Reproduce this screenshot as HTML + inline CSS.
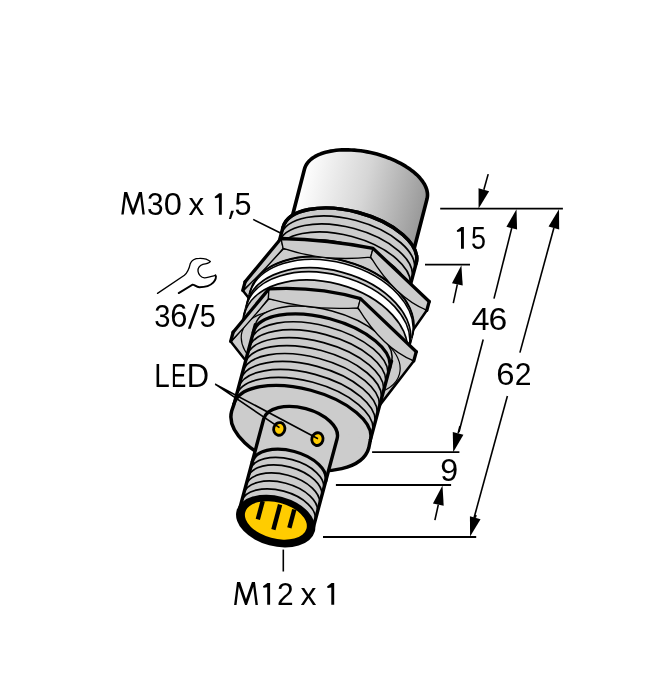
<!DOCTYPE html>
<html><head><meta charset="utf-8"><style>
html,body{margin:0;padding:0;background:#fff;}
svg{display:block;will-change:transform;}
text{font-family:"Liberation Sans",sans-serif;fill:#000;}
</style></head><body>
<svg width="653" height="700" viewBox="0 0 653 700">
<defs>
<linearGradient id="capg" gradientUnits="userSpaceOnUse" x1="304" y1="169" x2="427" y2="199">
<stop offset="0" stop-color="#ffffff"/><stop offset="0.5" stop-color="#d6d6d6"/><stop offset="1" stop-color="#989898"/>
</linearGradient>
</defs>
<rect width="653" height="700" fill="#fff"/>
<path d="M 304.5 169 L 305 167.41 L 305.67 165.87 L 306.5 164.38 L 307.49 162.94 L 308.64 161.56 L 309.95 160.24 L 311.41 158.98 L 313.02 157.8 L 314.78 156.68 L 316.68 155.64 L 318.71 154.68 L 320.86 153.8 L 323.15 153 L 325.55 152.29 L 328.05 151.66 L 330.67 151.13 L 333.37 150.68 L 336.17 150.32 L 339.05 150.06 L 342 149.89 L 345.02 149.81 L 348.09 149.83 L 351.21 149.94 L 354.37 150.14 L 357.57 150.43 L 360.78 150.82 L 364.01 151.3 L 367.24 151.87 L 370.47 152.53 L 373.69 153.27 L 376.88 154.1 L 380.05 155.01 L 383.17 155.99 L 386.25 157.06 L 389.27 158.2 L 392.23 159.41 L 395.11 160.69 L 397.92 162.03 L 400.63 163.43 L 403.25 164.89 L 405.77 166.4 L 408.18 167.96 L 410.47 169.56 L 412.63 171.2 L 414.67 172.88 L 416.58 174.58 L 418.35 176.32 L 419.97 178.07 L 421.44 179.84 L 422.76 181.63 L 423.93 183.41 L 424.93 185.2 L 425.78 186.99 L 426.46 188.77 L 426.97 190.54 L 427.31 192.28 L 427.49 194.01 L 427.49 195.71 L 427.33 197.37 L 427 199 L 407 276.44 L 284.5 246.44 Z" fill="url(#capg)" stroke="#000" stroke-width="3.6" stroke-linejoin="round"/>
<g transform="translate(366 184) rotate(15)" stroke-linejoin="round" stroke-linecap="round">
<path d="M -69 63.5 A 69 34 0 0 1 69 63.5 L 69 125 L -69 125 Z" fill="#cccccc" stroke="#000" stroke-width="3.4"/>
<path d="M -69 71.8 A 69 34 0 0 1 69 71.8" fill="none" stroke="#000" stroke-width="1.7"/>
<path d="M -69 80.1 A 69 34 0 0 1 69 80.1" fill="none" stroke="#000" stroke-width="1.7"/>
<path d="M -69 88.4 A 69 34 0 0 1 69 88.4" fill="none" stroke="#000" stroke-width="1.7"/>
<path d="M -69 96.7 A 69 34 0 0 1 69 96.7" fill="none" stroke="#000" stroke-width="1.7"/>
<path d="M -69 105 A 69 34 0 0 1 69 105" fill="none" stroke="#000" stroke-width="1.7"/>
<path d="M -69 63.5 A 69 34 0 0 1 69 63.5" fill="none" stroke="#000" stroke-width="3.4"/>
<path d="M -63.39 83.62 L 23.46 69.34 L 91.46 106.21 L 67.99 171.38 L -23.46 185.66 L -91.46 134.79 Z" fill="#cccccc" stroke="#000" stroke-width="2.5"/>
<path d="M -84 133.4 A 84 53.5 0 0 1 84 133.4 L 84 158.1 A 84 53.5 0 0 1 -84 158.1 Z" fill="#cccccc" stroke="#000" stroke-width="2"/>
<path d="M -84 136.1 A 84 53.5 0 0 1 84 136.1 L 84 144.9 A 84 53.5 0 0 0 -84 144.9 Z" fill="#fff" stroke="none"/>
<path d="M -84 148.9 A 84 53.5 0 0 1 84 148.9 L 84 157.4 A 84 53.5 0 0 0 -84 157.4 Z" fill="#fff" stroke="none"/>
<path d="M -84 133.4 A 84 53.5 0 0 1 84 133.4" fill="none" stroke="#000" stroke-width="1.2"/>
<path d="M -84 136.1 A 84 53.5 0 0 1 84 136.1" fill="none" stroke="#000" stroke-width="1.6"/>
<path d="M -84 144.9 A 84 53.5 0 0 1 84 144.9" fill="none" stroke="#000" stroke-width="1.8"/>
<path d="M -84 148.9 A 84 53.5 0 0 1 84 148.9" fill="none" stroke="#000" stroke-width="1.6"/>
<path d="M -84 157.4 A 84 53.5 0 0 1 84 157.4" fill="none" stroke="#000" stroke-width="1.8"/>
<path d="M -91.46 125.79 Q -79.72 100.21 -67.99 74.62 L -63.39 83.62 Q -77.42 113.21 -91.46 134.79 Z" fill="#cccccc" stroke="#000" stroke-width="1.3"/>
<path d="M -67.99 74.62 Q -22.26 63.48 23.46 60.34 L 23.46 69.34 Q -19.96 86.48 -63.39 83.62 Z" fill="#cccccc" stroke="#000" stroke-width="1.3"/>
<path d="M 23.46 60.34 Q 57.46 78.77 91.46 97.21 L 91.46 106.21 Q 57.46 101.77 23.46 69.34 Z" fill="#cccccc" stroke="#000" stroke-width="1.3"/>
<path d="M -91.46 125.79 Q -79.72 100.21 -67.99 74.62 Q -22.26 63.48 23.46 60.34 Q 57.46 78.77 91.46 97.21" fill="none" stroke="#000" stroke-width="3.3"/>
<path d="M -91.46 125.79 L -91.46 134.79" fill="none" stroke="#000" stroke-width="3.3"/>
<path d="M 91.46 97.21 L 91.46 106.21" fill="none" stroke="#000" stroke-width="3.3"/>
<path d="M -64.63 135.92 L 24.34 121.64 L 91.97 158.51 L 68.63 214.68 L -22.34 237.96 L -89.97 187.09 Z" fill="#cccccc" stroke="#000" stroke-width="2.5"/>
<ellipse cx="0" cy="175" rx="81.5" ry="40" fill="#cccccc" stroke="#000" stroke-width="1.2"/>
<path d="M -70.5 164.5 A 70.5 33 0 0 1 70.5 164.5 L 70.5 254 L -70.5 254 Z" fill="#cccccc" stroke="#000" stroke-width="1.5"/>
<path d="M -70.5 172.5 A 70.5 33 0 0 1 70.5 172.5" fill="none" stroke="#000" stroke-width="3.2"/>
<path d="M -70.5 180.72 A 70.5 33 0 0 1 70.5 180.72" fill="none" stroke="#000" stroke-width="1.7"/>
<path d="M -70.5 188.94 A 70.5 33 0 0 1 70.5 188.94" fill="none" stroke="#000" stroke-width="1.7"/>
<path d="M -70.5 197.17 A 70.5 33 0 0 1 70.5 197.17" fill="none" stroke="#000" stroke-width="1.7"/>
<path d="M -70.5 205.39 A 70.5 33 0 0 1 70.5 205.39" fill="none" stroke="#000" stroke-width="1.7"/>
<path d="M -70.5 213.61 A 70.5 33 0 0 1 70.5 213.61" fill="none" stroke="#000" stroke-width="1.7"/>
<path d="M -70.5 221.83 A 70.5 33 0 0 1 70.5 221.83" fill="none" stroke="#000" stroke-width="1.7"/>
<path d="M -70.5 230.06 A 70.5 33 0 0 1 70.5 230.06" fill="none" stroke="#000" stroke-width="1.7"/>
<path d="M -70.5 238.28 A 70.5 33 0 0 1 70.5 238.28" fill="none" stroke="#000" stroke-width="1.7"/>
<path d="M -70.5 246.5 A 70.5 33 0 0 1 70.5 246.5" fill="none" stroke="#000" stroke-width="3.2"/>
<path d="M -70.5 164.5 L -70.5 246.5 M 70.5 164.5 L 70.5 246.5" fill="none" stroke="#000" stroke-width="3.4"/>
<path d="M -89.97 177.59 Q -78.3 152.01 -66.63 126.42 L -64.63 135.92 Q -77.3 165.51 -89.97 187.09 Z" fill="#cccccc" stroke="#000" stroke-width="1.3"/>
<path d="M -66.63 126.42 Q -21.15 111.28 24.34 112.14 L 24.34 121.64 Q -20.15 136.78 -64.63 135.92 Z" fill="#cccccc" stroke="#000" stroke-width="1.3"/>
<path d="M 24.34 112.14 Q 58.16 130.57 91.97 149.01 L 91.97 158.51 Q 58.16 154.07 24.34 121.64 Z" fill="#cccccc" stroke="#000" stroke-width="1.3"/>
<path d="M -89.97 177.59 Q -78.3 152.01 -66.63 126.42 Q -21.15 111.28 24.34 112.14 Q 58.16 130.57 91.97 149.01" fill="none" stroke="#000" stroke-width="3.3"/>
<path d="M -89.97 177.59 L -89.97 187.09" fill="none" stroke="#000" stroke-width="3.3"/>
<path d="M 91.97 149.01 L 91.97 158.51" fill="none" stroke="#000" stroke-width="3.3"/>
<path d="M -71 246.5 L -71 254 A 71 38.5 0 0 0 71 254 L 71 246.5 Z" fill="#cccccc" stroke="none"/>
<path d="M -70.5 246.5 L -71 254 A 71 38.5 0 0 0 71 254 L 70.5 246.5" fill="none" stroke="#000" stroke-width="3.5"/>
<path d="M -38 253.5 A 38 20.9 0 0 1 38 253.5 L 38 349 L -38 349 Z" fill="#cccccc" stroke="#000" stroke-width="3.4"/>
<path d="M -38 297.8 A 38 20.9 0 0 1 38 297.8" fill="none" stroke="#000" stroke-width="3.2"/>
<path d="M -38 306.3 A 38 20.9 0 0 1 38 306.3" fill="none" stroke="#000" stroke-width="1.7"/>
<path d="M -38 314 A 38 20.9 0 0 1 38 314" fill="none" stroke="#000" stroke-width="1.7"/>
<path d="M -38 322.4 A 38 20.9 0 0 1 38 322.4" fill="none" stroke="#000" stroke-width="1.7"/>
<path d="M -38 330.7 A 38 20.9 0 0 1 38 330.7" fill="none" stroke="#000" stroke-width="1.7"/>
<path d="M -38 338.9 A 38 20.9 0 0 1 38 338.9" fill="none" stroke="#000" stroke-width="1.7"/>
<ellipse cx="0" cy="349" rx="40.5" ry="25" fill="#000"/>
<ellipse cx="0" cy="348.3" rx="31.7" ry="18" fill="#ffcc00"/>
<path d="M -17.7 333 L -17.7 352" stroke="#000" stroke-width="4.4" stroke-linecap="butt"/>
<path d="M 0 332 L 0 357.8" stroke="#000" stroke-width="4.4" stroke-linecap="butt"/>
<path d="M 15 333 L 15 352" stroke="#000" stroke-width="4.4" stroke-linecap="butt"/>
<ellipse cx="-20.4" cy="259" rx="5.6" ry="6.4" fill="#ffcc00" stroke="#000" stroke-width="2.8"/>
<ellipse cx="19.1" cy="259" rx="5.6" ry="6.4" fill="#ffcc00" stroke="#000" stroke-width="2.8"/>
</g>
<path d="M253.2 219.4 L281 233.3" stroke="#000" stroke-width="1.6"/>
<path d="M215.2 384.2 L279.5 427.7 M215.2 384.2 L318 438.7" stroke="#000" stroke-width="1.6" fill="none"/>
<path d="M157.5 293.4 L184.4 275.3 C187.5 272.5 189.3 268 190.2 263.8 C191.5 260.5 195 258.3 199.4 258.3 C203 258.2 207.5 258.8 210.3 261.5 C209.5 263.5 206 263.5 202.8 264.4 C199.5 265.6 197.8 268.5 198 271.2 C198.4 274.5 201 277.6 204.5 277.8 C208 278 212 276 215.4 275.3" fill="none" stroke="#000" stroke-width="1.3" stroke-linecap="round"/>
<path d="M215.4 275.3 C216.8 276.5 215.5 280.5 213.1 282.7 C210.5 285.5 206.3 287.3 199.4 287.3 C196 287 194.5 284.5 192.5 284.6 L178.7 293.1" fill="none" stroke="#000" stroke-width="1.9" stroke-linecap="round"/>
<path d="M283.3 549.6 L283.3 571.5" stroke="#000" stroke-width="1.6"/>
<path d="M440.2 208.6 L562.9 208.6" stroke="#000" stroke-width="1.8"/>
<path d="M425 264.6 L470 264.6" stroke="#000" stroke-width="1.8"/>
<path d="M372.1 452.2 L459.4 452.2" stroke="#000" stroke-width="1.8"/>
<path d="M335.9 485 L451.1 485" stroke="#000" stroke-width="1.8"/>
<path d="M323 537 L476.2 537" stroke="#000" stroke-width="1.8"/>
<path d="M478.6 208.6 L489.13 191.29 L478.53 188.34 Z" fill="#000"/><path d="M483.83 189.81 L488.2 174.1" stroke="#000" stroke-width="1.6"/>
<path d="M461.4 265.3 L451.95 283.22 L462.7 285.52 Z" fill="#000"/><path d="M457.32 284.37 L453.3 303.2" stroke="#000" stroke-width="1.6"/>
<path d="M516.5 209.2 L506.41 226.77 L517.07 229.45 Z" fill="#000"/><path d="M511.74 228.11 L494 298.6" stroke="#000" stroke-width="1.6"/>
<path d="M483.2 339.5 L459 432" stroke="#000" stroke-width="1.6"/>
<path d="M453.2 452.2 L463.42 434.71 L452.78 431.94 Z" fill="#000"/><path d="M458.1 433.33 L460 426" stroke="#000" stroke-width="1.6"/>
<path d="M559 209.2 L548.56 226.57 L559.18 229.46 Z" fill="#000"/><path d="M553.87 228.01 L519.9 352.6" stroke="#000" stroke-width="1.6"/>
<path d="M507.4 396 L474 518" stroke="#000" stroke-width="1.6"/>
<path d="M470.1 536.6 L480.54 519.24 L469.93 516.34 Z" fill="#000"/><path d="M475.24 517.79 L476 515" stroke="#000" stroke-width="1.6"/>
<path d="M442.5 485.6 L432.94 503.47 L443.69 505.83 Z" fill="#000"/><path d="M438.32 504.65 L434.9 520.2" stroke="#000" stroke-width="1.6"/>
<text font-size="100" transform="matrix(0.2979 0 0 0.3211 146.91 214.88)">3</text>
<text font-size="100" transform="matrix(0.3263 0 0 0.3183 163.79 215.08)">0</text>
<text font-size="100" transform="matrix(0.3128 0 0 0.3094 188.53 214.70)">x</text>
<text font-size="100" transform="matrix(0.3053 0 0 0.3157 234.58 214.88)">5</text>
<text font-size="100" transform="matrix(0.2915 0 0 0.3197 154.33 327.48)">3</text>
<text font-size="100" transform="matrix(0.3087 0 0 0.3268 170.16 327.47)">6</text>
<path d="M187.9 328.8 L190.6 328.8 L199.5 304 L196.8 304 Z" fill="#000"/>
<text font-size="100" transform="matrix(0.2884 0 0 0.3171 199.85 327.48)">5</text>
<text font-size="100" transform="matrix(0.2787 0 0 0.3290 154.37 386.80)">L</text>
<text font-size="100" transform="matrix(0.2275 0 0 0.3290 170.88 386.80)">E</text>
<text font-size="100" transform="matrix(0.3092 0 0 0.3290 186.73 386.80)">D</text>
<text font-size="100" transform="matrix(0.2695 0 0 0.3129 471.12 249.39)">5</text>
<text font-size="100" transform="matrix(0.3240 0 0 0.3159 471.49 329.70)">4</text>
<text font-size="100" transform="matrix(0.3370 0 0 0.3127 488.62 329.79)">6</text>
<text font-size="100" transform="matrix(0.3283 0 0 0.3183 496.36 385.18)">6</text>
<text font-size="100" transform="matrix(0.3011 0 0 0.3071 514.79 384.80)">2</text>
<text font-size="100" transform="matrix(0.3226 0 0 0.3169 440.35 480.58)">9</text>
<text font-size="100" transform="matrix(0.2989 0 0 0.3157 276.91 605.00)">2</text>
<text font-size="100" transform="matrix(0.3191 0 0 0.3151 300.62 604.90)">x</text>
<path d="M231.1 210.8 L233.9 210.8 L231.0 218.9 L228.9 218.9 Z" fill="#000"/>
<path d="M221.8 193.3 L221.8 214.8 L218.9 214.8 L218.9 197.6 L215.6 198.2 Q214.5 197.9 214.7 196.7 L219.1 193.3 Z" fill="#000"/>
<path d="M463.9 227 L463.9 248.7 L461 248.7 L461 231.3 L457.7 231.9 Q456.6 231.6 456.8 230.4 L461.2 227 Z" fill="#000"/>
<path d="M270.1 582.9 L270.1 604.7 L267.2 604.7 L267.2 587.2 L263.9 587.8 Q262.8 587.5 263 586.3 L267.4 582.9 Z" fill="#000"/>
<path d="M334.2 583.1 L334.2 604.7 L331.3 604.7 L331.3 587.4 L328 588 Q326.9 587.7 327.1 586.5 L331.5 583.1 Z" fill="#000"/>
<path d="M121.3 214.6 L124.2 192 L127.2 192 L133.05 209.1 L138.9 192 L141.9 192 L144.8 214.6 L142.4 214.6 L140.2 196.5 L134 214.6 L132.1 214.6 L125.9 196.5 L123.7 214.6 Z" fill="#000"/>
<path d="M234.1 604.9 L237.04 582.1 L240.08 582.1 L246 599.35 L251.92 582.1 L254.96 582.1 L257.9 604.9 L255.47 604.9 L253.24 586.64 L246.96 604.9 L245.04 604.9 L238.76 586.64 L236.53 604.9 Z" fill="#000"/>
</svg>
</body></html>
